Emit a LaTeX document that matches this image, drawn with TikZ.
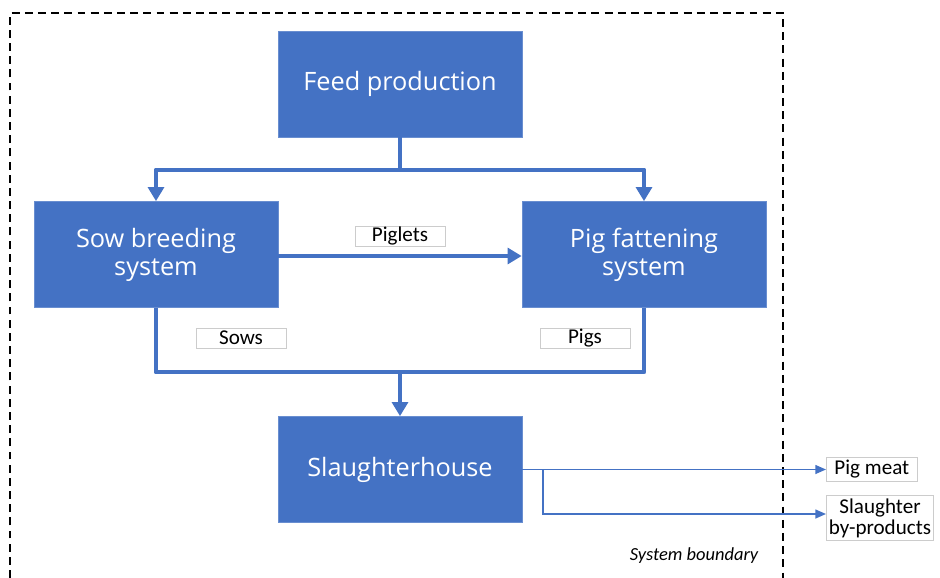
\documentclass[tikz,border=0pt]{standalone}
\usepackage{fontspec}
\setmainfont{Open Sans}
\newfontfamily\labelfont{Carlito}
\usetikzlibrary{arrows.meta}
\definecolor{boxblue}{HTML}{4472C4}

\begin{document}
\begin{tikzpicture}[
		x=0.02cm, y=-0.02cm,
		stage/.style={rectangle, fill=boxblue, draw=boxblue!80, text=white, align=center,
			minimum width=4.88cm, minimum height=2.12cm, font=\fontsize{14.4}{16}\selectfont},
		flowlabel/.style={rectangle, draw=black!20, fill=white, inner sep=0pt,
			minimum width=1.8cm, minimum height=0.4cm, font=\labelfont\fontsize{12}{12}\selectfont},
		outlabel/.style={rectangle, draw=black!20, fill=white, inner sep=1.5pt, align=center,
			font=\labelfont\fontsize{12}{12}\selectfont},
		mainflow/.style={draw=boxblue, line width=2.8pt, line join=round},
		mainarrow/.style={mainflow, -{Triangle[width=9pt, length=8pt]}},
		outarrow/.style={draw=boxblue, line width=0.9pt, -{Triangle[width=5pt, length=6pt]}}
	]
  \useasboundingbox (0,0) rectangle (940,578);
  % system boundary
  \draw[line width=0.6pt, dash pattern=on 4.5pt off 3pt] (10,578) -- (10,13) -- (783,13) -- (783,578);
  \node (boundary) [font=\itshape\labelfont\fontsize{10.5}{11}\selectfont] at (694,556) {System boundary};

  \node (feed) [stage] at (400,84) {Feed production};
  \node (sow) [stage] at (156,254.5) {Sow breeding\\system};
  \node (fat) [stage] at (644,254.5) {Pig fattening\\system};
  \node (slaughter) [stage] at (400,469.5) {Slaughterhouse};

  \coordinate (split) at (400,170);
  \coordinate (merge) at (400,372);
  \coordinate (branch) at (543,469);

  \draw[mainflow] (feed) -- (split);
  \draw[mainarrow] (split) -| (sow);
  \draw[mainarrow] (split) -| (fat);
  \draw[mainarrow] (sow.east |- 0,256) -- (fat.west |- 0,256);
  \draw[mainflow] (sow) |- (merge) -| (fat);
  \draw[mainarrow] (merge) -- (slaughter);

  \node (piglets) [flowlabel] at (400,236) {Piglets};
  \node (sows) [flowlabel] at (241,338) {Sows};
  \node (pigs) [flowlabel] at (585,338) {Pigs};

  \node (meat) [outlabel, anchor=west, minimum width=1.82cm] at (826,469.5) {Pig meat};
  \node (byprod) [outlabel, anchor=west] at (826,518) {Slaughter\\by-products};
  \draw[outarrow] (slaughter.east |- meat) -- (meat);
  \draw[outarrow] (branch) |- (826,514);
\end{tikzpicture}
\end{document}
